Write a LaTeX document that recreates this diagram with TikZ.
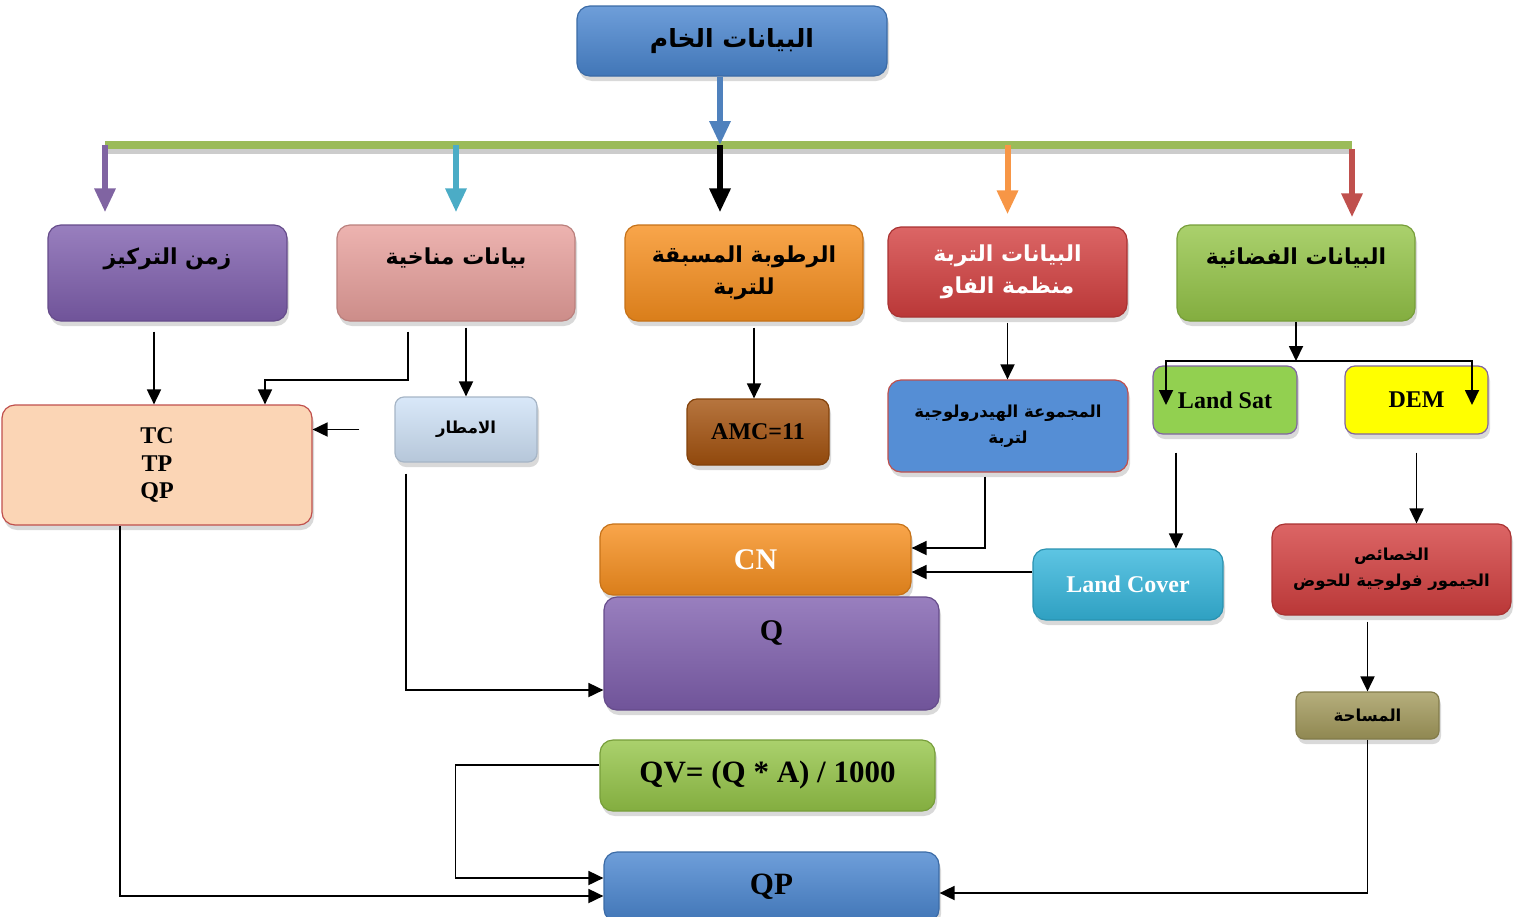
\documentclass[tikz,border=0pt]{standalone}
\usepackage{fontspec}
\setmainfont{Liberation Serif}
\newfontfamily\arabicfont[Script=Arabic]{DejaVu Sans}
\TeXXeTstate=1
\usepackage{tikz}
\usetikzlibrary{arrows.meta,shadows}
\definecolor{rawblue}{HTML}{4A86D0}
\definecolor{boxpurple}{HTML}{7F5FAE}
\definecolor{boxpink}{HTML}{E8A09C}
\definecolor{boxorange}{HTML}{F78F1E}
\definecolor{boxred}{HTML}{D33F3F}
\definecolor{boxgreen}{HTML}{95C548}
\definecolor{rainblue}{HTML}{CFE2F7}
\definecolor{brownbox}{HTML}{A4520E}
\definecolor{hydroblue}{HTML}{558ED5}
\definecolor{satgreen}{HTML}{92D050}
\definecolor{demyellow}{HTML}{FFFF00}
\definecolor{framepurple}{HTML}{8064A2}
\definecolor{framered}{HTML}{C0504D}
\definecolor{peach}{HTML}{FBD5B5}
\definecolor{cyanbox}{HTML}{35B6DC}
\definecolor{khaki}{HTML}{A39A5C}
\definecolor{arrowblue}{HTML}{4F81BD}
\definecolor{arrowcyan}{HTML}{4BACC6}
\definecolor{arroworange}{HTML}{F79646}
\definecolor{bargreen}{HTML}{9BBB59}
\newcommand{\artext}[1]{{\arabicfont\bfseries\beginR #1\endR}}

\begin{document}
\begin{tikzpicture}[x=1pt, y=-1pt,
  box/.style={rounded corners=13pt, align=center, inner sep=2pt, line width=1.2pt,
    drop shadow={shadow xshift=2pt, shadow yshift=-5pt, opacity=.3}},
  tint/.style={draw=#1!80!black, top color=#1!80!white, bottom color=#1!88!black},
  arrow/.style={-{Triangle[length=15pt,width=14pt]}, line width=1.8pt},
  feed/.style={-{Triangle[length=24pt,width=20pt]}, line width=6pt},
  uptext/.style={text height=18pt, text depth=#1},
  arbig/.style={font=\fontsize{22}{32}\selectfont},
  arsmall/.style={font=\fontsize{16.5}{26}\selectfont},
  lat/.style={font=\bfseries\fontsize{24}{27.5}\selectfont}
]
\useasboundingbox (0,0) rectangle (1528,916);

\node[box, tint=rawblue, minimum width=310pt, minimum height=70pt, font=\fontsize{25}{32}\selectfont] (raw) at (732,41) {\artext{البيانات الخام}};

\node[box, tint=boxpurple, arbig, uptext=36pt, minimum width=239pt, minimum height=96pt] (time) at (167.5,273) {\artext{زمن التركيز}};
\node[box, tint=boxpink, arbig, uptext=36pt, minimum width=238pt, minimum height=96pt] (climate) at (456,273) {\artext{بيانات مناخية}};
\node[box, tint=boxorange, arbig, minimum width=238pt, minimum height=96pt] (amc) at (744,273) {\artext{الرطوبة المسبقة}\\\artext{للتربة}};
\node[box, tint=boxred, arbig, text=white, minimum width=239pt, minimum height=90pt] (soil) at (1007.5,272) {\artext{البيانات التربة}\\\artext{منظمة الفاو}};
\node[box, tint=boxgreen, arbig, uptext=36pt, minimum width=238pt, minimum height=96pt] (space) at (1296,273) {\artext{البيانات الفضائية}};

\node[box, draw=framered, fill=peach, lat, minimum width=310pt, minimum height=120pt] (tc) at (157,465) {TC\\TP\\QP};
\node[box, tint=rainblue, arsmall, rounded corners=9pt, minimum width=142pt, minimum height=65pt] (rain) at (466,429.5) {\artext{الامطار}};
\node[box, tint=brownbox, lat, rounded corners=10pt, minimum width=142pt, minimum height=66pt] (amc11) at (758,432) {AMC=11};
\node[box, draw=framered, fill=hydroblue, arsmall, minimum width=240pt, minimum height=92pt] (hydro) at (1008,426) {\artext{المجموعة الهيدرولوجية}\\\artext{لتربة}};
\node[box, draw=framepurple, fill=satgreen, lat, rounded corners=10pt, minimum width=144pt, minimum height=68pt] (landsat) at (1225,400) {Land Sat};
\node[box, draw=framepurple, fill=demyellow, lat, rounded corners=10pt, minimum width=143pt, minimum height=68pt] (dem) at (1416.5,400) {DEM};

\node[box, tint=boxorange, text=white, font=\bfseries\fontsize{30}{36}\selectfont, minimum width=311pt, minimum height=71pt] (cn) at (755.5,559.5) {CN};
\node[box, tint=cyanbox, text=white, lat, minimum width=190pt, minimum height=71pt] (landcover) at (1128,584.5) {Land Cover};
\node[box, tint=boxred, arsmall, minimum width=239pt, minimum height=91pt] (geo) at (1391.5,569.5) {\artext{الخصائص}\\\artext{الجيمور فولوجية للحوض}};
\node[box, tint=boxpurple, font=\bfseries\fontsize{30}{36}\selectfont, text height=20pt, text depth=47pt, minimum width=335pt, minimum height=113pt] (q) at (771.5,653.5) {Q};
\node[box, tint=khaki, arsmall, rounded corners=8pt, minimum width=143pt, minimum height=47pt] (area) at (1367.5,715.5) {\artext{المساحة}};
\node[box, tint=boxgreen, font=\bfseries\fontsize{31}{36}\selectfont, minimum width=335pt, minimum height=71pt] (qv) at (767.5,775.5) {QV= (Q * A) / 1000};
\node[box, tint=rawblue, font=\bfseries\fontsize{31}{36}\selectfont, minimum width=335pt, minimum height=70pt] (qp) at (771.5,887) {QP};

\coordinate (hub) at (720,145);
\coordinate (barL) at (105,145);
\coordinate (barR) at (1352,145);
\coordinate (split) at (1296,361);

\draw[line width=8pt, black!40, opacity=.5] ([yshift=-5pt]barL) -- ([yshift=-5pt]barR);
\draw[line width=8pt, bargreen] (barL) -- (barR);
\draw[feed, arrowblue] ([xshift=-12pt]raw.south) -- (hub);
\draw[feed, framepurple, shorten >=12pt] (barL) -- (barL |- time.north);
\draw[feed, arrowcyan, shorten >=12pt] (climate.north |- hub) -- (climate.north);
\draw[feed, black, shorten >=12pt] (hub) -- (hub |- amc.north);
\draw[feed, arroworange, shorten >=12pt] (soil.north |- hub) -- (soil.north);
\draw[feed, framered, shorten >=7pt] ([yshift=-4pt]barR) -- (barR |- space.north);

\draw[arrow, shorten <=10pt] ([xshift=-13.5pt]time.south) -- ([xshift=-3pt]tc.north);
\draw[arrow, shorten <=10pt] ([xshift=-48pt]climate.south) |- (265,380) -- ([xshift=108pt]tc.north);
\draw[arrow, shorten <=6pt] ([xshift=10pt]climate.south) -- (rain.north);
\draw[arrow, shorten <=35pt] (rain.west) -- (tc.east |- rain.west);
\draw[arrow, shorten <=11pt] ([xshift=-60pt]rain.south) |- ([yshift=-36.5pt]q.west);
\draw[arrow, shorten <=6pt] ([xshift=10pt]amc.south) -- ([xshift=-4pt]amc11.north);
\draw[arrow, shorten <=5pt] (soil.south) -- (soil.south |- hydro.north);
\draw[arrow, shorten <=4pt] ([xshift=-23pt]hydro.south) |- ([yshift=11.5pt]cn.east);
\draw[arrow] ([yshift=12.5pt]landcover.west) -- ([yshift=-12.5pt]cn.east);
\draw[arrow] (space.south) -- (split);
\draw[arrow] (split) -| ([xshift=-59pt,yshift=-5pt]landsat.center);
\draw[arrow] (split) -| ([xshift=55.5pt,yshift=-5pt]dem.center);
\draw[arrow, shorten <=18pt] ([xshift=-49pt]landsat.south) -- ([xshift=48pt]landcover.north);
\draw[arrow, shorten <=18pt] (dem.south) -- (dem.south |- geo.north);
\draw[arrow, shorten <=6pt] (area.north |- geo.south) -- (area.north);
\draw[arrow] (area.south) |- ([yshift=-6pt]qp.east);
\draw[arrow] ([yshift=10.5pt]qv.west) -- ++(-144,0) |- ([yshift=9pt]qp.west);
\draw[arrow] ([xshift=-37pt]tc.south) |- ([yshift=-9pt]qp.west);
\end{tikzpicture}
\end{document}
